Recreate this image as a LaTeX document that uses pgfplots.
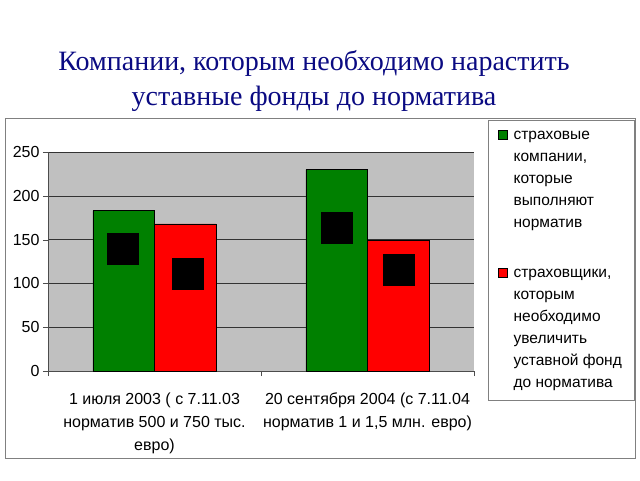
\documentclass[border=0pt]{standalone}
\usepackage{fontspec}
\setmainfont{Liberation Sans}
\newfontfamily\titlefont{Liberation Serif}
\usepackage{pgfplots}
\pgfplotsset{compat=1.18}
\definecolor{xlgreen}{RGB}{0,128,0}
\definecolor{xlred}{RGB}{255,0,0}
\definecolor{plotgray}{RGB}{192,192,192}
\definecolor{titleblue}{RGB}{10,10,130}
\begin{document}
\begin{tikzpicture}[x=1pt,y=1pt]
\path[use as bounding box] (0,0) rectangle (640,480);
\node[font=\titlefont\fontsize{28}{35}\selectfont, text=titleblue, align=center] at (314,399) {Компании, которым необходимо нарастить\\уставные фонды до норматива};
\draw[black!50] (5,22) rectangle (635,362);
\begin{axis}[
  at={(48pt,109pt)}, anchor=south west, scale only axis,
  width=426pt, height=219pt,
  xmin=-0.5, xmax=1.5, ymin=0, ymax=250,
  ytick={0,50,...,250},
  xtick={-0.5,0.5,1.5}, xticklabels={},
  extra x ticks={0,1},
  extra x tick labels={{1 июля 2003 ( с 7.11.03\\норматив 500 и 750 тыс.\\евро)}, {20 сентября 2004 (с 7.11.04\\норматив 1 и 1,5 млн. евро)}},
  extra x tick style={major tick length=0pt, tick label style={align=center, font=\fontsize{16}{23}\selectfont, yshift=-18pt}},
  tick align=outside, major tick length=5pt,
  tick style={black!70},
  axis x line*=bottom, axis y line*=left,
  axis line style={black!70},
  ymajorgrids, grid style={black!80, line width=0.5pt},
  axis background/.style={fill=plotgray},
  ticklabel style={font=\fontsize{16}{19}\selectfont},
  /pgf/number format/assume math mode=true,
  legend style={at={(1.0329,1.146)}, anchor=north west, draw=black!50, fill=white,
    font=\fontsize{15.5}{22}\selectfont, row sep=36pt, column sep=4pt, inner xsep=10pt, inner ysep=9pt,
    nodes={align=left}, cells={anchor=north west}},
  legend image code/.code={\draw[#1, draw=black, line width=0.4pt] (0pt,-10pt) rectangle (9pt,-1pt);},
]
\addplot[ybar, bar width=0.289, bar shift=0pt, fill=xlgreen, draw=black, line width=0.4pt] coordinates {(-0.1445,183) (0.8555,230)};
\addlegendentry{страховые\\компании,\\которые\\выполняют\\норматив}
\addplot[ybar, bar width=0.289, bar shift=0pt, fill=xlred, draw=black, line width=0.4pt] coordinates {(0.1445,168) (1.1445,149)};
\addlegendentry{страховщики,\\которым\\необходимо\\увеличить\\уставной фонд\\до норматива}
\addplot[forget plot, only marks, mark=square*, mark size=15.5pt, black] coordinates {(-0.148,140) (0.157,111) (0.854,164) (1.148,116)};
\end{axis}
\end{tikzpicture}
\end{document}
